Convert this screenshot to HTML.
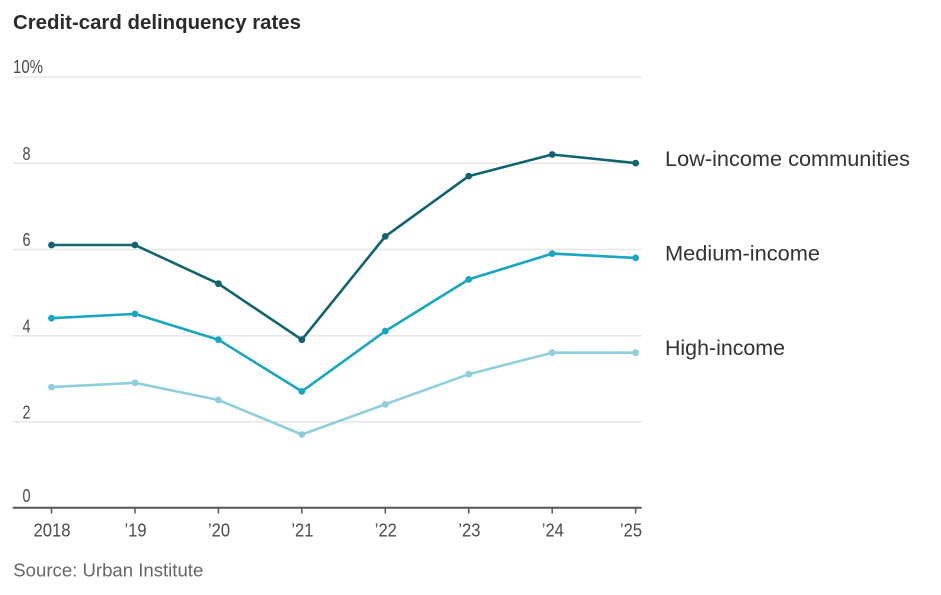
<!DOCTYPE html>
<html>
<head>
<meta charset="utf-8">
<style>
html,body{margin:0;padding:0;background:#fff;}
svg{display:block;}
text{font-family:"Liberation Sans",sans-serif;}
</style>
</head>
<body>
<svg width="941" height="595" viewBox="0 0 941 595" xmlns="http://www.w3.org/2000/svg">
  <rect width="941" height="595" fill="#fff"/>
  <!-- Title -->
  <text x="13" y="29" font-size="20.5" font-weight="bold" fill="#2b2b2b" textLength="288" lengthAdjust="spacingAndGlyphs">Credit-card delinquency rates</text>

  <!-- Gridlines -->
  <g stroke="#e6e6e6" stroke-width="1.5">
    <line x1="13" y1="77" x2="641.7" y2="77"/>
    <line x1="13" y1="163.3" x2="641.7" y2="163.3"/>
    <line x1="13" y1="249.5" x2="641.7" y2="249.5"/>
    <line x1="13" y1="335.7" x2="641.7" y2="335.7"/>
    <line x1="13" y1="421.7" x2="641.7" y2="421.7"/>
  </g>

  <!-- Y labels -->
  <g font-size="18" fill="#4a4a4a">
    <text x="13" y="73" textLength="30" lengthAdjust="spacingAndGlyphs">10%</text>
    <text x="30.5" y="160" text-anchor="end" textLength="8" lengthAdjust="spacingAndGlyphs">8</text>
    <text x="30.5" y="246" text-anchor="end" textLength="8" lengthAdjust="spacingAndGlyphs">6</text>
    <text x="30.5" y="332.3" text-anchor="end" textLength="8" lengthAdjust="spacingAndGlyphs">4</text>
    <text x="30.5" y="418.3" text-anchor="end" textLength="8" lengthAdjust="spacingAndGlyphs">2</text>
    <text x="30.5" y="502" text-anchor="end" textLength="8" lengthAdjust="spacingAndGlyphs">0</text>
  </g>

  <!-- X axis -->
  <line x1="12.7" y1="507.7" x2="641.7" y2="507.7" stroke="#555" stroke-width="2"/>
  <g stroke="#555" stroke-width="1.5">
    <line x1="51.5" y1="507.7" x2="51.5" y2="513.5"/>
    <line x1="134.95" y1="507.7" x2="134.95" y2="513.5"/>
    <line x1="218.4" y1="507.7" x2="218.4" y2="513.5"/>
    <line x1="301.85" y1="507.7" x2="301.85" y2="513.5"/>
    <line x1="385.3" y1="507.7" x2="385.3" y2="513.5"/>
    <line x1="468.75" y1="507.7" x2="468.75" y2="513.5"/>
    <line x1="552.2" y1="507.7" x2="552.2" y2="513.5"/>
    <line x1="635.65" y1="507.7" x2="635.65" y2="513.5"/>
  </g>
  <g font-size="18" fill="#4a4a4a" text-anchor="middle">
    <text x="52" y="536.7" textLength="37" lengthAdjust="spacingAndGlyphs">2018</text>
    <text x="135.5" y="536.7" textLength="22" lengthAdjust="spacingAndGlyphs">’19</text>
    <text x="219" y="536.7" textLength="22" lengthAdjust="spacingAndGlyphs">’20</text>
    <text x="302.4" y="536.7" textLength="22" lengthAdjust="spacingAndGlyphs">’21</text>
    <text x="385.8" y="536.7" textLength="22" lengthAdjust="spacingAndGlyphs">’22</text>
    <text x="469.4" y="536.7" textLength="22" lengthAdjust="spacingAndGlyphs">’23</text>
    <text x="552.8" y="536.7" textLength="22" lengthAdjust="spacingAndGlyphs">’24</text>
    <text x="631" y="536.7" textLength="22" lengthAdjust="spacingAndGlyphs">’25</text>
  </g>

  <!-- Light (High-income) -->
  <polyline fill="none" stroke="#8fcfdd" stroke-width="2.6" stroke-linejoin="round"
    points="51.5,387.1 134.95,382.8 218.4,400.0 301.85,434.5 385.3,404.3 468.75,374.2 552.2,352.7 635.65,352.7"/>
  <g fill="#8fcfdd">
    <circle cx="51.5" cy="387.1" r="3.4"/><circle cx="134.95" cy="382.8" r="3.4"/>
    <circle cx="218.4" cy="400.0" r="3.4"/><circle cx="301.85" cy="434.5" r="3.4"/>
    <circle cx="385.3" cy="404.3" r="3.4"/><circle cx="468.75" cy="374.2" r="3.4"/>
    <circle cx="552.2" cy="352.7" r="3.4"/><circle cx="635.65" cy="352.7" r="3.4"/>
  </g>

  <!-- Medium -->
  <polyline fill="none" stroke="#18a6c1" stroke-width="2.6" stroke-linejoin="round"
    points="51.5,318.2 134.95,313.9 218.4,339.7 301.85,391.4 385.3,331.1 468.75,279.4 552.2,253.6 635.65,257.9"/>
  <g fill="#18a6c1">
    <circle cx="51.5" cy="318.2" r="3.4"/><circle cx="134.95" cy="313.9" r="3.4"/>
    <circle cx="218.4" cy="339.7" r="3.4"/><circle cx="301.85" cy="391.4" r="3.4"/>
    <circle cx="385.3" cy="331.1" r="3.4"/><circle cx="468.75" cy="279.4" r="3.4"/>
    <circle cx="552.2" cy="253.6" r="3.4"/><circle cx="635.65" cy="257.9" r="3.4"/>
  </g>

  <!-- Dark (Low-income) -->
  <polyline fill="none" stroke="#10646e" stroke-width="2.6" stroke-linejoin="round"
    points="51.5,245.0 134.95,245.0 218.4,283.7 301.85,339.7 385.3,236.4 468.75,176.1 552.2,154.5 635.65,163.1"/>
  <g fill="#10646e">
    <circle cx="51.5" cy="245.0" r="3.4"/><circle cx="134.95" cy="245.0" r="3.4"/>
    <circle cx="218.4" cy="283.7" r="3.4"/><circle cx="301.85" cy="339.7" r="3.4"/>
    <circle cx="385.3" cy="236.4" r="3.4"/><circle cx="468.75" cy="176.1" r="3.4"/>
    <circle cx="552.2" cy="154.5" r="3.4"/><circle cx="635.65" cy="163.1" r="3.4"/>
  </g>

  <!-- Series labels -->
  <g font-size="21" fill="#333">
    <text x="665" y="166" textLength="245" lengthAdjust="spacingAndGlyphs">Low-income communities</text>
    <text x="665" y="260.7" textLength="155" lengthAdjust="spacingAndGlyphs">Medium-income</text>
    <text x="665" y="355" textLength="120" lengthAdjust="spacingAndGlyphs">High-income</text>
  </g>

  <!-- Source -->
  <text x="13.3" y="576.7" font-size="18" fill="#666" textLength="190" lengthAdjust="spacingAndGlyphs">Source: Urban Institute</text>
</svg>
</body>
</html>
